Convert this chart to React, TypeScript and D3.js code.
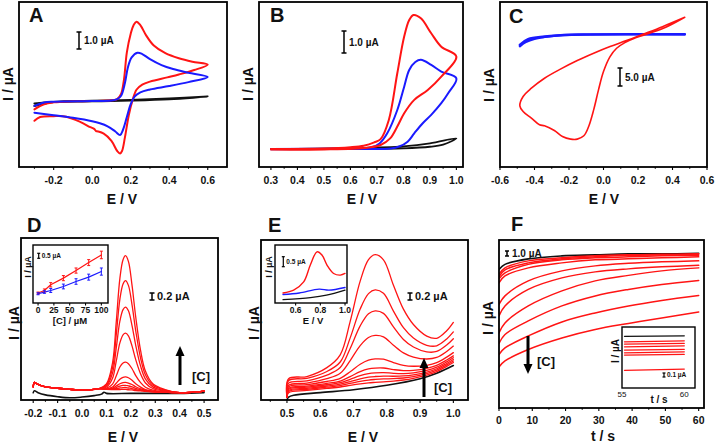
import React from "react";
import * as d3 from "d3";

type P = [number, number];
const FONT = "'Liberation Sans', Arial, Helvetica, sans-serif";
const RED = "#ff1414";
const BLUE = "#1a1aff";
const BLK = "#111111";

// ---------------- Panel A (CV) ----------------
const A_TICKS = [-0.2, 0, 0.2, 0.4, 0.6];
const A_MINOR = [-0.3, -0.1, 0.1, 0.3, 0.5];
const A_RED: P[] = [
  [-0.3, -0.55], [-0.25, -0.25], [-0.2, -0.14], [-0.1, -0.08], [0.0, -0.06], [0.1, -0.02],
  [0.13, 0.05], [0.15, 0.35], [0.165, 1.2], [0.18, 2.8], [0.2, 3.9], [0.215, 4.4], [0.23, 4.6],
  [0.25, 4.4], [0.28, 3.8], [0.32, 3.2], [0.38, 2.75], [0.45, 2.45], [0.52, 2.25], [0.6, 2.08],
  [0.53, 1.76], [0.45, 1.5], [0.39, 1.33], [0.3, 1.08], [0.26, 0.9], [0.23, 0.6], [0.21, 0.0],
  [0.19, -0.9], [0.17, -2.2], [0.155, -3.0], [0.145, -3.14], [0.13, -3.0], [0.1, -2.4],
  [0.06, -1.98], [0.03, -1.85], [0.02, -1.83], [0.01, -1.7], [-0.01, -1.6], [-0.06, -1.3],
  [-0.135, -0.98], [-0.2, -0.95], [-0.27, -1.0], [-0.3, -1.22],
];
const A_BLUE: P[] = [
  [-0.3, -0.35], [-0.25, -0.15], [-0.2, -0.1], [0.0, -0.06], [0.1, -0.03], [0.13, 0.05],
  [0.15, 0.25], [0.17, 1.0], [0.185, 1.9], [0.205, 2.5], [0.235, 2.78], [0.26, 2.7], [0.3, 2.4],
  [0.36, 2.05], [0.42, 1.82], [0.5, 1.6], [0.6, 1.35],
  [0.5, 1.05], [0.4, 0.82], [0.3, 0.62], [0.25, 0.45], [0.22, 0.2], [0.2, -0.25], [0.18, -1.0],
  [0.16, -1.75], [0.145, -2.06], [0.12, -1.85], [0.08, -1.55], [0.04, -1.37], [0.0, -1.25],
  [-0.1, -1.05], [-0.2, -0.9], [-0.3, -0.75],
];
const A_BLACK: P[] = [
  [-0.3, -0.35], [-0.2, -0.12], [0.0, -0.05], [0.2, 0.0], [0.4, 0.08], [0.6, 0.2],
  [0.4, 0.05], [0.2, -0.03], [0.0, -0.08], [-0.2, -0.12], [-0.3, -0.2],
];

// ---------------- Panel B (CV) ----------------
const B_TICKS = [0.3, 0.4, 0.5, 0.6, 0.7, 0.8, 0.9, 1.0];
const B_MINOR = [0.35, 0.45, 0.55, 0.65, 0.75, 0.85, 0.95];
const B_RED: P[] = [
  [0.3, 0], [0.5, 0.02], [0.6, 0.08], [0.65, 0.15], [0.69, 0.3], [0.714, 0.45], [0.745, 1.32],
  [0.777, 3.44], [0.803, 5.11], [0.822, 5.86], [0.838, 6.09], [0.866, 5.94], [0.905, 5.26],
  [0.943, 4.65], [1.0, 4.2],
  [0.943, 3.29], [0.892, 2.68], [0.841, 2.23], [0.803, 1.62], [0.777, 1.02], [0.75, 0.48],
  [0.714, 0.18], [0.663, 0.06], [0.5, -0.02], [0.3, -0.03],
];
const B_BLUE: P[] = [
  [0.3, 0], [0.6, 0.03], [0.68, 0.08], [0.71, 0.25], [0.739, 0.71], [0.777, 1.77], [0.803, 2.83],
  [0.822, 3.59], [0.845, 3.95], [0.866, 4.05], [0.905, 3.82], [0.943, 3.52], [1.0, 3.21],
  [0.969, 2.53], [0.943, 2.08], [0.905, 1.55], [0.873, 1.17], [0.841, 0.71], [0.816, 0.33],
  [0.784, 0.11], [0.752, 0.02], [0.6, 0], [0.3, -0.01],
];
const B_BLACK: P[] = [
  [0.3, 0], [0.6, 0.04], [0.8, 0.12], [0.9, 0.25], [1.0, 0.48],
  [0.95, 0.2], [0.9, 0.1], [0.8, 0.03], [0.6, 0.0], [0.3, 0],
];

// ---------------- Panel C (CV) ----------------
const C_TICKS = [-0.6, -0.4, -0.2, 0, 0.2, 0.4, 0.6];
const C_MINOR = [-0.5, -0.3, -0.1, 0.1, 0.3, 0.5];
const C_RED: P[] = [
  [0.471, 4.81], [0.342, 2.17], [0.228, 0], [0.133, -1.79], [0.038, -3.49], [-0.057, -5.38],
  [-0.152, -7.45], [-0.247, -9.81], [-0.342, -12.45], [-0.418, -15.28], [-0.466, -17.63],
  [-0.485, -20.27], [-0.466, -21.88], [-0.418, -23.76], [-0.371, -25.65], [-0.342, -25.93],
  [-0.285, -27.25], [-0.238, -28.95], [-0.19, -29.7], [-0.152, -29.7], [-0.114, -28.76],
  [-0.086, -26.12], [-0.057, -21.41], [-0.029, -15.75], [0, -10.56], [0.038, -6.32],
  [0.076, -3.96], [0.124, -2.36], [0.19, -0.94], [0.266, 0.28], [0.361, 1.98], [0.471, 4.81],
];
const C_BLUE: P[] = [
  [-0.485, -3.0], [-0.437, -1.4], [-0.342, -0.65], [-0.228, -0.2], [-0.095, -0.05], [0.471, 0],
];
const C_BLUE_LOW: P[] = [
  [-0.485, -3.4], [-0.45, -2.2], [-0.4, -1.3], [-0.3, -0.5], [-0.15, -0.1], [0.471, -0.05],
];

// ---------------- Panel D (DPV) ----------------
const D_TICKS = [-0.2, -0.1, 0, 0.1, 0.2, 0.3, 0.4, 0.5];
const D_MINOR = [-0.15, -0.05, 0.05, 0.15, 0.25, 0.35, 0.45];
const D_E = [-0.2, -0.195, -0.185, -0.15, -0.1, -0.05, 0.0, 0.04, 0.07, 0.1, 0.125, 0.14, 0.155,
  0.168, 0.178, 0.19, 0.205, 0.22, 0.24, 0.26, 0.29, 0.34, 0.4, 0.45, 0.5];
const D_BASE = [0.18, 0.3, 0.26, 0.18, 0.14, 0.11, 0.09, 0.1, 0.13, 0.11, 0.1, 0.09, 0.08, 0.08,
  0.08, 0.07, 0.07, 0.06, 0.06, 0.05, 0.04, 0.03, 0.02, 0.03, 0.06];
const D_SHAPE = [0, 0, 0, 0, 0, 0, 0, 0, 0, 0.04, 0.2, 0.5, 0.83, 0.97, 1.0, 0.96, 0.78, 0.55, 0.3,
  0.15, 0.06, 0.02, 0, 0, 0];
const D_HEIGHTS = [3.67, 2.99, 2.27, 1.56, 0.77, 0.37, 0.22, 0.14, 0.08, 0.03];
const D_BLACK: P[] = [
  [-0.2, 0.02], [-0.195, 0.07], [-0.18, 0.02], [-0.15, -0.04], [-0.1, -0.09], [-0.05, -0.12],
  [0.0, -0.1], [0.05, -0.06], [0.08, -0.02], [0.09, 0.03], [0.1, 0.0], [0.2, 0.0], [0.3, 0.0],
  [0.4, 0.0], [0.5, 0.02],
];
// inset D (calibration)
const DI_TICKS = [0, 25, 50, 75, 100];
const DI_CONC = [0, 10, 20, 40, 60, 80, 100];
const DI_RED = [0.07, 0.33, 0.9, 1.57, 2.33, 3.13, 3.9];
const DI_RED_ERR = [0.1, 0.15, 0.22, 0.26, 0.26, 0.3, 0.38];
const DI_BLUE = [0, 0.17, 0.33, 0.73, 1.23, 1.67, 2.23];
const DI_BLUE_ERR = [0.1, 0.13, 0.2, 0.24, 0.28, 0.3, 0.36];

// ---------------- Panel E (DPV) ----------------
const E_TICKS = [0.5, 0.6, 0.7, 0.8, 0.9, 1.0];
const E_MINOR = [0.45, 0.55, 0.65, 0.75, 0.85, 0.95];
const E_E = [0.5, 0.505, 0.56, 0.62, 0.66, 0.69, 0.72, 0.745, 0.765, 0.79, 0.82, 0.85, 0.88,
  0.92, 0.95, 0.98, 1.0];
const E_BASE = [-0.1, 0.0, 0.06, 0.11, 0.14, 0.16, 0.17, 0.18, 0.19, 0.21, 0.25, 0.3, 0.36, 0.46,
  0.56, 0.7, 0.8];
const E_SHAPE = [0, 0, 0, 0.06, 0.16, 0.44, 0.78, 0.96, 1.0, 0.95, 0.72, 0.5, 0.35, 0.22, 0.17,
  0.19, 0.23];
const E_HEIGHTS = [3.19, 2.28, 1.78, 1.17, 0.57, 0.36, 0.26, 0.19, 0.14, 0.09];
const E_OFFSETS = [0.4, 0.35, 0.28, 0.22, 0.18, 0.14, 0.11, 0.08, 0.05, 0.02];
const E_BLACK: P[] = [
  [0.5, -0.17], [0.505, -0.1], [0.52, -0.05], [0.6, 0.02], [0.7, 0.1], [0.8, 0.22], [0.9, 0.4],
  [0.95, 0.55], [1.0, 0.76],
];
// inset E
const EI_TICKS = [0.6, 0.8, 1.0];
const EI_RED: P[] = [
  [0.498, 0.28], [0.584, 0.42], [0.665, 0.83], [0.719, 1.67], [0.773, 2.33], [0.813, 2.17],
  [0.854, 1.67], [0.908, 1.25], [0.962, 1.17], [1.0, 1.25],
];
const EI_BLUE: P[] = [
  [0.498, 0.2], [0.63, 0.28], [0.79, 0.47], [0.87, 0.42], [1.0, 0.55],
];
const EI_BLACK: P[] = [
  [0.498, -0.05], [0.72, 0.05], [0.85, 0.17], [1.0, 0.42],
];

// ---------------- Panel F (chronoamperometry) ----------------
const F_TICKS = [0, 10, 20, 30, 40, 50, 60];
const F_MINOR = [5, 15, 25, 35, 45, 55];
const F_T = [0, 1.8, 8.8, 18.9, 28.9, 38.9, 48.9, 60];
const F_BLACK = [-3.2, -2.2, -1.1, -0.5, -0.3, -0.1, -0.1, 0];
const F_RED = [
  [-4.2, -2.9, -1.5, -0.9, -0.5, -0.3, -0.2, -0.1],
  [-4.7, -3.3, -1.9, -1.1, -0.7, -0.4, -0.3, -0.2],
  [-5.1, -3.9, -2.2, -1.3, -0.9, -0.7, -0.5, -0.4],
  [-5.9, -4.5, -2.9, -1.9, -1.3, -1.1, -0.9, -0.7],
  [-10.2, -8.5, -5.5, -3.5, -2.5, -2.0, -1.7, -1.5],
  [-12.5, -10.5, -7.2, -4.9, -3.7, -3.1, -2.7, -2.4],
  [-15.9, -13.9, -10.5, -7.5, -5.5, -4.4, -3.5, -2.9],
  [-18.0, -16.2, -13.5, -10.5, -8.5, -7.2, -6.2, -5.4],
  [-20.2, -18.9, -16.5, -13.7, -11.9, -10.5, -9.4, -8.4],
  [-22.7, -21.5, -19.2, -16.9, -15.2, -14.0, -12.9, -11.7],
];
// inset F
const FI_TICKS = [55, 60];
const FI_T = [55.2, 60];
const FI_BLACK = [0, 0.01];
const FI_RED = [
  [-0.11, -0.09], [-0.155, -0.14], [-0.21, -0.19], [-0.275, -0.26], [-0.33, -0.31],
  [-0.375, -0.36], [-0.68, -0.655],
];

// ---------------- helpers ----------------
interface Box { l: number; r: number; t: number; b: number; }
interface Series { pts: P[]; color: string; w: number; linear?: boolean; }

const fmt1 = (v: number) => v.toFixed(1);
const fmt0 = (v: number) => String(v);

function Panel(props: {
  id: string; box: Box; xd: [number, number]; yd: [number, number];
  ticks: number[]; minor: number[]; fmt: (v: number) => string;
  series: Series[]; fs?: number; sw?: number; tl?: number; gap?: number; weight?: string;
  extra?: (x: d3.ScaleLinear<number, number>, y: d3.ScaleLinear<number, number>) => React.ReactNode;
}) {
  const { id, box, xd, yd, ticks, minor, fmt, series } = props;
  const fs = props.fs ?? 10.5;
  const sw = props.sw ?? 1.8;
  const tl = props.tl ?? 3;
  const gap = props.gap ?? 17;
  const x = d3.scaleLinear().domain(xd).range([box.l, box.r]);
  const y = d3.scaleLinear().domain(yd).range([box.b, box.t]);
  return (
    <g>
      <defs>
        <clipPath id={id}>
          <rect x={box.l} y={box.t} width={box.r - box.l} height={box.b - box.t} />
        </clipPath>
      </defs>
      <g clipPath={`url(#${id})`}>
        {series.map((s, i) => {
          const gen = d3.line<P>().x((d) => x(d[0])).y((d) => y(d[1]))
            .curve(s.linear ? d3.curveLinear : d3.curveCatmullRom.alpha(0.5));
          return (
            <path key={i} d={gen(s.pts) ?? ""} fill="none" stroke={s.color} strokeWidth={s.w}
              strokeLinejoin="round" strokeLinecap="round" />
          );
        })}
        {props.extra ? props.extra(x, y) : null}
      </g>
      <rect x={box.l} y={box.t} width={box.r - box.l} height={box.b - box.t} fill="none"
        stroke="#000" strokeWidth={sw} />
      {ticks.map((v) => (
        <g key={"t" + v}>
          {tl > 0 ? <line x1={x(v)} x2={x(v)} y1={box.b} y2={box.b + tl} stroke="#000" strokeWidth={1.1} /> : null}
          <text x={x(v)} y={box.b + gap} textAnchor="middle" fontSize={fs}
            fontWeight={props.weight ?? "bold"} fill="#111">{fmt(v)}</text>
        </g>
      ))}
      {minor.map((v) => (
        <line key={"m" + v} x1={x(v)} x2={x(v)} y1={box.b} y2={box.b + tl * 0.6} stroke="#000"
          strokeWidth={1} />
      ))}
    </g>
  );
}

function ScaleBar(p: { x: number; y1: number; y2: number; label: string; fs: number; w?: number; cap?: number; dx?: number }) {
  const cap = p.cap ?? 2.5;
  const w = p.w ?? 1.5;
  return (
    <g>
      <line x1={p.x} x2={p.x} y1={p.y1} y2={p.y2} stroke="#000" strokeWidth={w} />
      <line x1={p.x - cap} x2={p.x + cap} y1={p.y1} y2={p.y1} stroke="#000" strokeWidth={w} />
      <line x1={p.x - cap} x2={p.x + cap} y1={p.y2} y2={p.y2} stroke="#000" strokeWidth={w} />
      <text x={p.x + (p.dx ?? 5)} y={(p.y1 + p.y2) / 2 + p.fs * 0.36} fontSize={p.fs}
        fontWeight="bold" fill="#111">{p.label}</text>
    </g>
  );
}

function Arrow(p: { x: number; tail: number; tip: number }) {
  const dir = p.tip < p.tail ? -1 : 1;
  const hl = 10;
  return (
    <g>
      <line x1={p.x} x2={p.x} y1={p.tail} y2={p.tip - dir * hl} stroke="#000" strokeWidth={3} />
      <polygon points={`${p.x - 4.5},${p.tip - dir * hl} ${p.x + 4.5},${p.tip - dir * hl} ${p.x},${p.tip}`}
        fill="#000" />
    </g>
  );
}

function YLabel(p: { x: number; y: number; fs: number; text?: string }) {
  return (
    <text transform={`translate(${p.x},${p.y}) rotate(-90)`} textAnchor="middle" fontSize={p.fs}
      fontWeight="bold" fill="#111">{p.text ?? "I / µA"}</text>
  );
}

function XLabel(p: { x: number; y: number; fs: number; text: string }) {
  return (
    <text x={p.x} y={p.y} textAnchor="middle" fontSize={p.fs} fontWeight="bold" fill="#111">{p.text}</text>
  );
}

function Letter(p: { x: number; y: number; text: string }) {
  return <text x={p.x} y={p.y} fontSize={20} fontWeight="bold" fill="#111">{p.text}</text>;
}

function ErrBar(p: { x: number; lo: number; hi: number; color: string }) {
  return (
    <g>
      <line x1={p.x} x2={p.x} y1={p.lo} y2={p.hi} stroke={p.color} strokeWidth={1} />
      <line x1={p.x - 1.5} x2={p.x + 1.5} y1={p.hi} y2={p.hi} stroke={p.color} strokeWidth={1} />
      <line x1={p.x - 1.5} x2={p.x + 1.5} y1={p.lo} y2={p.lo} stroke={p.color} strokeWidth={1} />
    </g>
  );
}

export default function App() {
  const dCurves: P[][] = D_HEIGHTS.map((h) => D_E.map((e, i) => [e, D_BASE[i] + h * D_SHAPE[i]] as P));
  const eCurves: P[][] = E_HEIGHTS.map((h, k) =>
    E_E.map((e, i) => [e, i === 0 ? E_BASE[0] : E_BASE[i] + E_OFFSETS[k] + h * E_SHAPE[i]] as P));
  const fRed: P[][] = F_RED.map((arr) => F_T.map((t, i) => [t, arr[i]] as P));
  const fBlack: P[] = F_T.map((t, i) => [t, F_BLACK[i]] as P);

  return (
    <svg width={716} height={444} viewBox="0 0 716 444"
      style={{ position: "absolute", left: 0, top: 0, background: "#fff", fontFamily: FONT }}>
      <rect x={0} y={0} width={716} height={444} fill="#fff" />

      {/* ---------- A ---------- */}
      <Panel id="cA" box={{ l: 19, r: 227, t: 2, b: 167 }} xd={[-0.38, 0.7]} yd={[-3.94, 5.76]}
        ticks={A_TICKS} minor={A_MINOR} fmt={fmt1}
        series={[
          { pts: A_BLACK, color: BLK, w: 2 },
          { pts: A_RED, color: RED, w: 2 },
          { pts: A_BLUE, color: BLUE, w: 2 },
        ]} />
      <ScaleBar x={79} y1={32} y2={49} label="1.0 µA" fs={10} />
      <Letter x={29} y={22} text="A" />
      <YLabel x={13} y={84} fs={14} />
      <XLabel x={122} y={204} fs={14} text="E / V" />

      {/* ---------- B ---------- */}
      <Panel id="cB" box={{ l: 259, r: 463, t: 2, b: 167 }} xd={[0.255, 1.025]} yd={[-0.82, 6.68]}
        ticks={B_TICKS} minor={B_MINOR} fmt={fmt1}
        series={[
          { pts: B_BLACK, color: BLK, w: 1.8 },
          { pts: B_BLUE, color: BLUE, w: 2 },
          { pts: B_RED, color: RED, w: 2 },
        ]} />
      <ScaleBar x={344} y1={31} y2={53} label="1.0 µA" fs={10} />
      <Letter x={270} y={22} text="B" />
      <YLabel x={253} y={84} fs={14} />
      <XLabel x={362} y={204} fs={14} text="E / V" />

      {/* ---------- C ---------- */}
      <Panel id="cC" box={{ l: 500, r: 707, t: 2, b: 167 }} xd={[-0.6, 0.6]} yd={[-37.6, 9.15]}
        ticks={C_TICKS} minor={C_MINOR} fmt={fmt1}
        series={[
          { pts: C_BLUE_LOW, color: BLUE, w: 2.2 },
          { pts: C_BLUE, color: BLUE, w: 2.6 },
          { pts: C_RED, color: RED, w: 1.6 },
        ]} />
      <ScaleBar x={620} y1={68} y2={86} label="5.0 µA" fs={10} />
      <Letter x={509} y={23} text="C" />
      <YLabel x={494} y={85} fs={14} />
      <XLabel x={604} y={204} fs={14} text="E / V" />

      {/* ---------- D ---------- */}
      <Panel id="cD" box={{ l: 21, r: 218, t: 238, b: 400 }} xd={[-0.25, 0.557]} yd={[-0.18, 4.23]}
        ticks={D_TICKS} minor={D_MINOR} fmt={fmt1}
        series={[
          { pts: D_BLACK, color: BLK, w: 1.6 },
          ...dCurves.map((c) => ({ pts: c, color: RED, w: 1.3 })),
        ]} />
      <ScaleBar x={152} y1={293} y2={300} label="0.2 µA" fs={11} />
      <Arrow x={180} tail={385} tip={346} />
      <text x={192} y={381} fontSize={13} fontWeight="bold" fill="#111">[C]</text>
      <Letter x={27} y={232} text="D" />
      <YLabel x={19} y={323} fs={14} />
      <XLabel x={123} y={442} fs={14} text="E / V" />

      {/* inset D */}
      <rect x={33} y={245} width={75} height={58} fill="#fff" />
      <Panel id="cDi" box={{ l: 33, r: 108, t: 245, b: 303 }} xd={[-8, 110.5]} yd={[-0.93, 4.9]}
        ticks={DI_TICKS} minor={[]} fmt={fmt0} fs={8.5} sw={1.4} tl={2.5} gap={9.5}
        series={[
          { pts: DI_CONC.map((c, i) => [c, DI_RED[i]] as P), color: RED, w: 1.2, linear: true },
          { pts: DI_CONC.map((c, i) => [c, DI_BLUE[i]] as P), color: BLUE, w: 1.2, linear: true },
        ]}
        extra={(x, y) => (
          <g>
            {DI_CONC.map((c, i) => (
              <g key={"e" + i}>
                <ErrBar x={x(c)} lo={y(DI_RED[i] - DI_RED_ERR[i])} hi={y(DI_RED[i] + DI_RED_ERR[i])} color={RED} />
                <ErrBar x={x(c)} lo={y(DI_BLUE[i] - DI_BLUE_ERR[i])} hi={y(DI_BLUE[i] + DI_BLUE_ERR[i])} color={BLUE} />
              </g>
            ))}
          </g>
        )} />
      <ScaleBar x={38.7} y1={253.3} y2={258.3} label="0.5 µA" fs={6.5} w={1.2} cap={1.5} dx={3} />
      <YLabel x={30.5} y={267} fs={9} />
      <XLabel x={70} y={323.5} fs={9.5} text="[C] / µM" />

      {/* ---------- E ---------- */}
      <Panel id="cE" box={{ l: 261, r: 468, t: 240, b: 400 }} xd={[0.422, 1.044]} yd={[-0.18, 4.18]}
        ticks={E_TICKS} minor={E_MINOR} fmt={fmt1}
        series={[
          { pts: E_BLACK, color: BLK, w: 1.6 },
          ...eCurves.map((c) => ({ pts: c, color: RED, w: 1.3 })),
        ]} />
      <ScaleBar x={410} y1={293} y2={300} label="0.2 µA" fs={11} />
      <Arrow x={424} tail={397} tip={358} />
      <text x={434} y={392} fontSize={13} fontWeight="bold" fill="#111">[C]</text>
      <Letter x={268} y={232} text="E" />
      <YLabel x={259} y={323} fs={14} />
      <XLabel x={363} y={442} fs={14} text="E / V" />

      {/* inset E */}
      <rect x={275} y={245} width={72} height={58} fill="#fff" />
      <Panel id="cEi" box={{ l: 275, r: 347, t: 245, b: 303 }} xd={[0.433, 1.016]} yd={[-0.22, 2.67]}
        ticks={EI_TICKS} minor={[]} fmt={fmt1} fs={8.5} sw={1.4} tl={2.5} gap={9.5}
        series={[
          { pts: EI_BLACK, color: BLK, w: 1.3 },
          { pts: EI_BLUE, color: BLUE, w: 1.4 },
          { pts: EI_RED, color: RED, w: 1.4 },
        ]} />
      <ScaleBar x={283.3} y1={256.7} y2={266.7} label="0.5 µA" fs={6.5} w={1.2} cap={1.5} dx={3} />
      <YLabel x={272} y={267} fs={9} />
      <XLabel x={313} y={323.5} fs={9.5} text="E / V" />

      {/* ---------- F ---------- */}
      <Panel id="cF" box={{ l: 499, r: 704, t: 240, b: 408 }} xd={[0, 61.6]} yd={[-30.9, 2.67]}
        ticks={F_TICKS} minor={F_MINOR} fmt={fmt0} gap={16}
        series={[
          { pts: fBlack, color: BLK, w: 1.6 },
          ...fRed.map((c) => ({ pts: c, color: RED, w: 1.5 })),
        ]} />
      <ScaleBar x={507} y1={251} y2={256} label="1.0 µA" fs={10} w={1.5} cap={2} />
      <Arrow x={528} tail={336} tip={374} />
      <text x={537} y={366} fontSize={13} fontWeight="bold" fill="#111">[C]</text>
      <Letter x={511} y={231} text="F" />
      <YLabel x={493} y={318} fs={14} />
      <XLabel x={603} y={441} fs={14} text="t / s" />

      {/* inset F */}
      <rect x={622} y={327} width={73} height={61} fill="#fff" />
      <Panel id="cFi" box={{ l: 622, r: 695, t: 327, b: 388 }} xd={[55, 60.86]} yd={[-1.034, 0.186]}
        ticks={FI_TICKS} minor={[]} fmt={fmt0} fs={8} sw={1.4} tl={0} gap={9} weight="normal"
        series={[
          { pts: FI_T.map((t, i) => [t, FI_BLACK[i]] as P), color: BLK, w: 1.3, linear: true },
          ...FI_RED.map((r) => ({ pts: FI_T.map((t, i) => [t, r[i]] as P), color: RED, w: 1.3, linear: true })),
        ]} />
      <ScaleBar x={664} y1={373} y2={377} label="0.1 µA" fs={6.5} w={1.2} cap={1.5} dx={3} />
      <YLabel x={619} y={351} fs={10} />
      <XLabel x={659} y={403} fs={10} text="t / s" />
    </svg>
  );
}
